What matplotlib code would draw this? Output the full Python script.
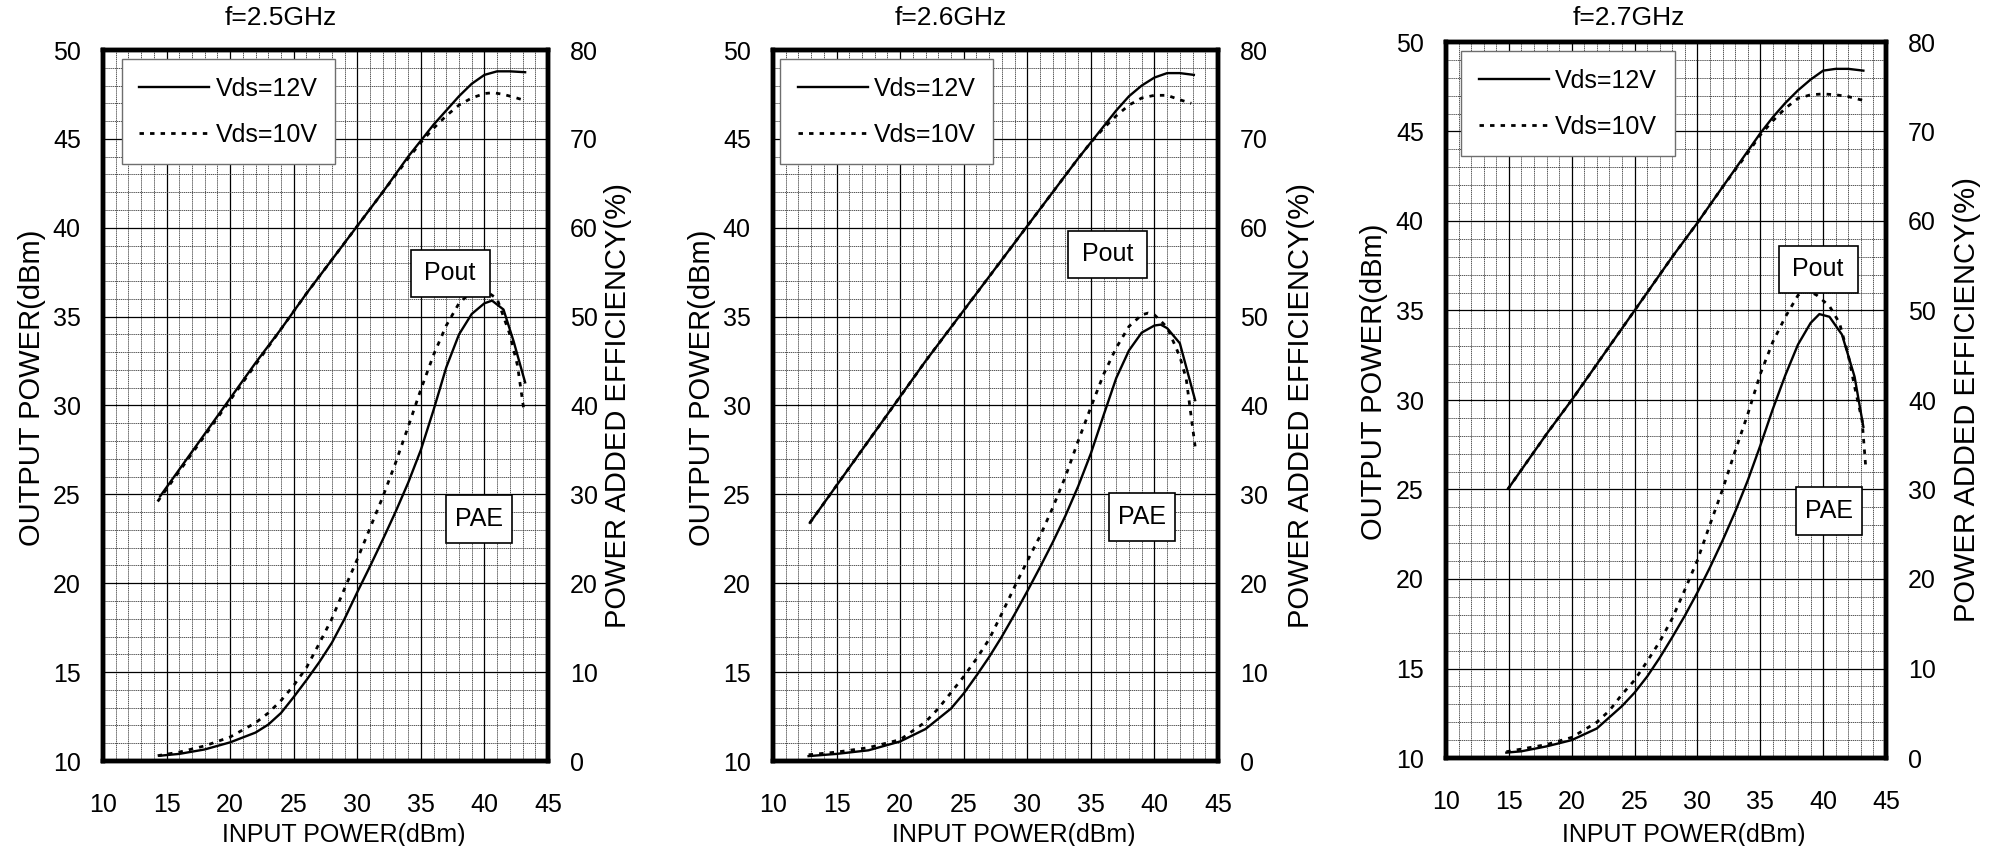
import matplotlib
matplotlib.use('Agg')
import matplotlib.pyplot as plt
from matplotlib import font_manager
from matplotlib.ticker import MultipleLocator
from matplotlib.patches import Rectangle
from matplotlib.transforms import ScaledTranslation

try:
    font_manager.findfont('Liberation Sans Narrow', fallback_to_default=False)
    FAMILY = ['Liberation Sans Narrow', 'Liberation Sans', 'DejaVu Sans']
    FS = 21
except Exception:
    FAMILY = ['Liberation Sans', 'DejaVu Sans']
    FS = 18
plt.rcParams['font.family'] = FAMILY
WIDE = ['Liberation Sans', 'DejaVu Sans']

titles = ['f=2.5GHz', 'f=2.6GHz', 'f=2.7GHz']
legend_labels = ['Vds=12V', 'Vds=10V']
x_label = 'INPUT POWER(dBm)'
y_label_left = 'OUTPUT POWER(dBm)'
y_label_right = 'POWER ADDED EFFICIENCY(%)'
box_labels = ['Pout', 'PAE']

# ---------------- f = 2.5 GHz ----------------
pin_pout12_25 = [14.5, 16, 18, 20, 22, 24, 26, 28, 30, 32, 34, 35, 36, 37, 38, 39, 40, 41, 42, 43.2]
pout12_25 = [24.9, 26.4, 28.4, 30.4, 32.4, 34.3, 36.3, 38.2, 40.1, 42.0, 44.0, 44.9, 45.8, 46.6, 47.4, 48.1, 48.6, 48.8, 48.8, 48.75]
pin_pout10_25 = [14.3, 16, 18, 20, 22, 24, 26, 28, 30, 32, 34, 35, 36, 37, 38, 39, 40, 40.7, 41.5, 42.3, 43.0]
pout10_25 = [24.6, 26.3, 28.3, 30.3, 32.3, 34.3, 36.3, 38.2, 40.1, 42.0, 43.9, 44.8, 45.6, 46.3, 46.9, 47.3, 47.55, 47.6, 47.5, 47.35, 47.2]
pin_pae12_25 = [14.5, 16, 18, 20, 22, 23, 24, 25, 26, 27, 28, 29, 30, 31, 32, 33, 34, 35, 36, 37, 38, 39, 40, 40.6, 41.5, 42.3, 43.2]
pae12_25 = [0.6, 0.8, 1.3, 2.1, 3.2, 4.1, 5.4, 7.2, 9.1, 11.1, 13.3, 16.0, 19.0, 21.9, 24.9, 28.0, 31.3, 35.0, 39.5, 44.3, 48.0, 50.3, 51.5, 51.8, 50.8, 47.2, 42.6]
pin_pae10_25 = [14.3, 16, 18, 20, 22, 23, 24, 25, 26, 27, 28, 29, 30, 31, 32, 33, 34, 35, 36, 37, 38, 39, 40, 41, 42, 42.6, 43.1]
pae10_25 = [0.6, 1.0, 1.7, 2.7, 4.3, 5.4, 6.8, 8.5, 10.5, 13.2, 16.0, 19.4, 22.7, 26.2, 29.7, 33.5, 37.6, 41.8, 45.7, 49.0, 51.5, 52.8, 53.0, 52.0, 48.0, 44.5, 39.5]

# ---------------- f = 2.6 GHz ----------------
pin_pout12_26 = [12.9, 14, 16, 18, 20, 22, 24, 26, 28, 30, 32, 34, 35, 36, 37, 38, 39, 40, 41, 42, 43.1]
pout12_26 = [23.4, 24.5, 26.5, 28.5, 30.5, 32.5, 34.4, 36.3, 38.2, 40.1, 42.0, 43.9, 44.8, 45.7, 46.6, 47.4, 48.0, 48.45, 48.7, 48.7, 48.6]
pin_pout10_26 = [12.9, 14, 16, 18, 20, 22, 24, 26, 28, 30, 32, 34, 35, 36, 37, 38, 39, 40, 41, 42, 42.9]
pout10_26 = [23.4, 24.5, 26.5, 28.5, 30.5, 32.5, 34.4, 36.3, 38.2, 40.1, 42.0, 43.9, 44.8, 45.6, 46.3, 46.9, 47.3, 47.45, 47.45, 47.2, 47.0]
pin_pae12_26 = [12.8, 15, 17.5, 20, 22, 24, 25, 26, 27, 28, 29, 30, 31, 32, 33, 34, 35, 36, 37, 38, 39, 40, 40.5, 41, 42, 43.2]
pae12_26 = [0.55, 0.8, 1.2, 2.2, 3.6, 5.9, 7.6, 9.6, 11.7, 14.0, 16.5, 19.1, 21.8, 24.6, 27.6, 30.9, 34.6, 38.9, 43.1, 46.2, 48.2, 49.0, 49.1, 48.7, 47.0, 40.6]
pin_pae10_26 = [12.8, 15, 17.5, 20, 22, 23, 24, 25, 26, 27, 28, 29, 30, 31, 32, 33, 34, 35, 36, 37, 38, 39, 39.5, 40, 41, 42, 42.5, 43.2]
pae10_26 = [0.7, 1.0, 1.5, 2.4, 4.4, 5.9, 7.7, 9.5, 11.5, 13.7, 16.6, 19.6, 22.5, 25.3, 28.5, 32.0, 36.0, 39.8, 43.5, 46.5, 48.9, 50.2, 50.4, 50.2, 48.8, 45.5, 43.0, 35.4]

# ---------------- f = 2.7 GHz ----------------
pin_pout12_27 = [15, 16, 18, 20, 22, 24, 26, 28, 30, 32, 34, 35, 36, 37, 38, 39, 40, 41, 42, 43.2]
pout12_27 = [25.1, 26.1, 28.1, 30.0, 32.0, 34.0, 36.0, 38.0, 39.9, 41.9, 43.9, 44.9, 45.8, 46.6, 47.3, 47.9, 48.4, 48.5, 48.5, 48.4]
pin_pout10_27 = [14.9, 16, 18, 20, 22, 24, 26, 28, 30, 32, 34, 35, 36, 37, 38, 39, 40, 41, 42, 43.1]
pout10_27 = [25.0, 26.1, 28.1, 30.0, 32.0, 34.0, 36.0, 38.0, 39.9, 41.9, 43.8, 44.8, 45.6, 46.3, 46.85, 47.05, 47.1, 47.05, 46.95, 46.75]
pin_pae12_27 = [14.8, 16, 18, 20, 22, 24, 25, 26, 27, 28, 29, 30, 31, 32, 33, 34, 35, 36, 37, 38, 39, 39.7, 40.5, 41.5, 42.5, 43.2]
pae12_27 = [0.6, 0.75, 1.3, 2.0, 3.3, 5.8, 7.3, 9.1, 11.2, 13.5, 15.9, 18.5, 21.3, 24.3, 27.5, 31.0, 34.9, 39.0, 42.8, 46.2, 48.6, 49.6, 49.3, 47.3, 42.6, 37.0]
pin_pae10_27 = [14.8, 16, 18, 20, 22, 23, 24, 25, 26, 27, 28, 29, 30, 31, 32, 33, 34, 35, 36, 37, 38, 38.7, 39.5, 40.5, 41.3, 42, 42.5, 43.1, 43.4]
pae10_27 = [0.7, 1.0, 1.5, 2.3, 4.0, 5.3, 7.1, 8.7, 10.8, 13.0, 15.6, 18.8, 22.1, 26.1, 30.0, 34.3, 38.4, 42.9, 46.5, 49.3, 51.7, 52.3, 51.7, 50.5, 48.6, 45.0, 41.5, 37.7, 32.3]

panels = [
    (pin_pout12_25, pout12_25, pin_pout10_25, pout10_25, pin_pae12_25, pae12_25, pin_pae10_25, pae10_25),
    (pin_pout12_26, pout12_26, pin_pout10_26, pout10_26, pin_pae12_26, pae12_26, pin_pae10_26, pae10_26),
    (pin_pout12_27, pout12_27, pin_pout10_27, pout10_27, pin_pae12_27, pae12_27, pin_pae10_27, pae10_27),
]

# ---------------- layout (pixels in a 1999x846 canvas) ----------------
W, H = 1999, 846
frames = [(103, 548, 50, 761), (773, 1218, 50, 761), (1446, 1886, 42, 758)]
ylab_left_px = [46, 716, 1388]       # right edge of rotated left label
ylab_right_px = [604, 1287, 1953]    # left edge of rotated right label
ylab_left_yfrac = 0.525
xlab_top_px = 823
title_center_px = 18
title_xfrac = [0.40, 0.40, 0.415]
pout_box = [(37.3, 37.45), (36.3, 38.5), (39.6, 37.3)]   # left-axis data units
pae_box = [(39.6, 23.6), (39.0, 23.75), (40.5, 23.8)]
box_size_px = [(79, 47), (66, 48)]
legend_left = [0.042, 0.016, 0.035]
legend_top_gap_px = 9

fig = plt.figure(figsize=(W / 100, H / 100), dpi=100)
fig.patch.set_facecolor('white')

DOT = (0, (1.6, 2.2))


def boxed_label(ax_draw, ax_data, pos, text, size_px):
    x, y = pos
    tr = fig.dpi_scale_trans + ScaledTranslation(x, y, ax_data.transData)
    w, h = size_px[0] / 100, size_px[1] / 100
    rect = Rectangle((-w / 2, -h / 2), w, h, transform=tr, fc='white', ec='black',
                     lw=1.2, zorder=9, clip_on=False)
    ax_draw.add_artist(rect)
    ax_draw.text(x, y, text, transform=ax_data.transData, ha='center', va='center',
                 fontsize=FS, zorder=10)


for i, (frm, data) in enumerate(zip(frames, panels)):
    L, R, T, B = frm
    ax = fig.add_axes([L / W, (H - B) / H, (R - L) / W, (B - T) / H])
    ax2 = ax.twinx()
    x12, y12, x10, y10, xp12, p12, xp10, p10 = data

    ax.set_xlim(10, 45)
    ax.set_ylim(10, 50)
    ax2.set_ylim(0, 80)
    ax.xaxis.set_major_locator(MultipleLocator(5))
    ax.xaxis.set_minor_locator(MultipleLocator(1))
    ax.yaxis.set_major_locator(MultipleLocator(5))
    ax.yaxis.set_minor_locator(MultipleLocator(1))
    ax2.yaxis.set_major_locator(MultipleLocator(10))
    ax.set_axisbelow(True)
    ax.grid(which='minor', color='#3a3a3a', lw=0.6, ls=(0, (1.5, 0.8)))
    ax.grid(which='major', color='black', lw=0.9)

    l12, = ax.plot(x12, y12, color='black', lw=1.7, label=legend_labels[0], zorder=3)
    l10, = ax.plot(x10, y10, color='black', lw=2.0, ls=DOT, label=legend_labels[1], zorder=3)
    ax2.plot(xp12, p12, color='black', lw=1.7, zorder=3)
    ax2.plot(xp10, p10, color='black', lw=2.0, ls=DOT, zorder=3)

    for a in (ax, ax2):
        for s in a.spines.values():
            s.set_linewidth(3.2)
            s.set_color('black')
    ax.tick_params(axis='both', which='both', length=0, labelsize=FS)
    ax.tick_params(axis='x', pad=23)
    ax.tick_params(axis='y', pad=16)
    ax2.tick_params(axis='y', which='both', length=0, labelsize=FS, pad=16)

    ax.set_xlabel(x_label, fontsize=FS)
    ax.xaxis.set_label_coords(0.54, -(xlab_top_px - B) / (B - T))
    ax.set_ylabel(y_label_left, fontsize=21, family=WIDE)
    ax.yaxis.set_label_coords((ylab_left_px[i] - L) / (R - L), ylab_left_yfrac)
    ax2.set_ylabel(y_label_right, fontsize=21, family=WIDE)
    ax2.yaxis.set_label_coords((ylab_right_px[i] - L) / (R - L), 0.5)

    ax.text(title_xfrac[i], 1 + (T - title_center_px) / (B - T), titles[i],
            transform=ax.transAxes, ha='center', va='center', fontsize=19)

    leg = ax.legend(handles=[l12, l10], loc='upper left',
                    bbox_to_anchor=(legend_left[i], 1 - legend_top_gap_px / (B - T)),
                    fontsize=FS, handlelength=2.8, handletextpad=0.25, labelspacing=0.9,
                    borderpad=0.7, borderaxespad=0, fancybox=False, framealpha=1,
                    edgecolor='#6e6e6e')
    leg.get_frame().set_linewidth(1.0)

    boxed_label(ax2, ax, pout_box[i], box_labels[0], box_size_px[0])
    boxed_label(ax2, ax, pae_box[i], box_labels[1], box_size_px[1])

fig.savefig('out.png', dpi=100, facecolor='white')
